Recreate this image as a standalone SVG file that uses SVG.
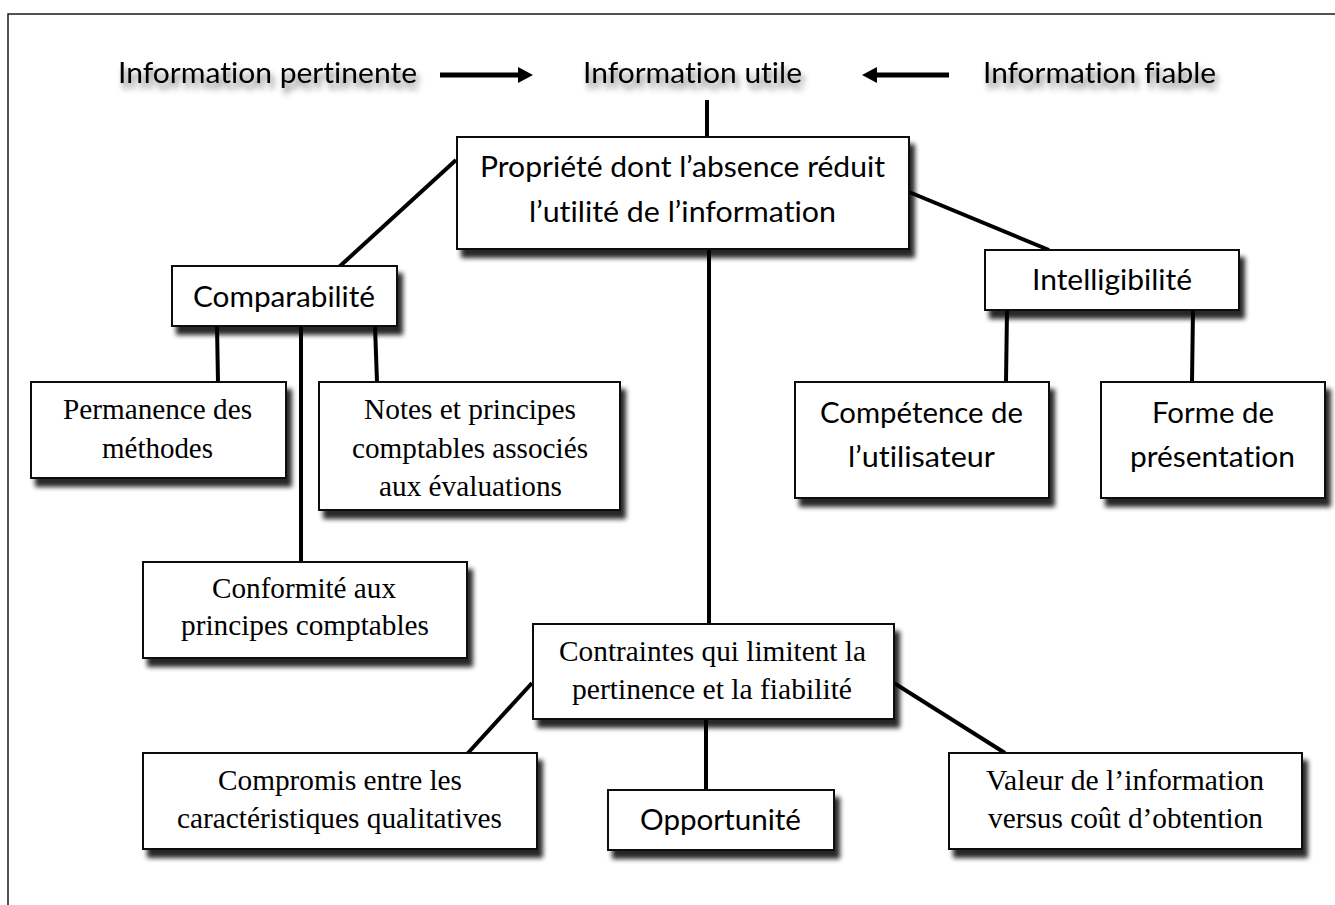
<svg xmlns="http://www.w3.org/2000/svg" width="1335" height="905" viewBox="0 0 1335 905">
<style>
  .frame{fill:none;stroke:#1a1a1a;stroke-width:1.5}
  .box{fill:#ffffff;stroke:#111;stroke-width:2;filter:url(#boxshadow)}
  .con{stroke:#000;stroke-width:4;fill:none;stroke-linecap:butt}
  .arr{stroke:#000;stroke-width:5;fill:none}
  .sans{font-family:"Lato","Open Sans","Liberation Sans",sans-serif;font-size:28px;fill:#000;font-variant-ligatures:none;font-feature-settings:"liga" 0,"clig" 0}
  .serif{font-family:"Liberation Serif","DejaVu Serif",serif;font-size:29px;fill:#000;font-variant-ligatures:none;font-feature-settings:"liga" 0}
  .top{filter:url(#textshadow)}
</style>
<defs>
  <filter id="boxshadow" x="-10%" y="-10%" width="130%" height="140%">
    <feGaussianBlur in="SourceAlpha" stdDeviation="2.5"/>
    <feOffset dx="5" dy="8" result="b"/>
    <feComponentTransfer><feFuncA type="linear" slope="0.85"/></feComponentTransfer>
    <feMerge><feMergeNode/><feMergeNode in="SourceGraphic"/></feMerge>
  </filter>
  <filter id="textshadow" x="-10%" y="-30%" width="130%" height="180%">
    <feGaussianBlur in="SourceAlpha" stdDeviation="3"/>
    <feOffset dx="3" dy="6" result="b"/>
    <feComponentTransfer><feFuncA type="linear" slope="0.55"/></feComponentTransfer>
    <feMerge><feMergeNode/><feMergeNode in="SourceGraphic"/></feMerge>
  </filter>
  <marker id="head" markerUnits="userSpaceOnUse" markerWidth="16" markerHeight="18" refX="0" refY="9" orient="auto">
    <path d="M0,1 L15,9 L0,17 z" fill="#000"/>
  </marker>
</defs>
<rect x="0" y="0" width="1335" height="905" fill="#ffffff"/>
<path class="frame" d="M8,905 V14 H1335"/>

<g id="connectors">
  <line class="arr" x1="440" y1="75" x2="518" y2="75" marker-end="url(#head)"/>
  <line class="arr" x1="949" y1="75" x2="877" y2="75" marker-end="url(#head)"/>
  <line class="con" x1="707" y1="100" x2="707" y2="137"/>
  <line class="con" x1="456" y1="160" x2="339" y2="267"/>
  <line class="con" x1="909" y1="192" x2="1049" y2="250"/>
  <line class="con" x1="709" y1="249" x2="709" y2="624"/>
  <line class="con" x1="217" y1="326" x2="218" y2="382"/>
  <line class="con" x1="301" y1="326" x2="301" y2="562"/>
  <line class="con" x1="375" y1="326" x2="377" y2="382"/>
  <line class="con" x1="1007" y1="310" x2="1006" y2="382"/>
  <line class="con" x1="1193" y1="310" x2="1192" y2="382"/>
  <line class="con" x1="532" y1="683" x2="468" y2="753"/>
  <line class="con" x1="706" y1="719" x2="706" y2="790"/>
  <line class="con" x1="894" y1="683" x2="1005" y2="753"/>
</g>

<g id="info-pertinente" class="top">
  <text class="sans" x="118" y="83" textLength="299" lengthAdjust="spacingAndGlyphs">Information pertinente</text>
</g>
<g id="info-utile" class="top">
  <text class="sans" x="583" y="83" textLength="219" lengthAdjust="spacingAndGlyphs">Information utile</text>
</g>
<g id="info-fiable" class="top">
  <text class="sans" x="983" y="83" textLength="233" lengthAdjust="spacingAndGlyphs">Information fiable</text>
</g>

<g id="propriete">
  <rect class="box" x="457" y="137" width="452" height="112"/>
  <text class="sans" x="480" y="177" textLength="405" lengthAdjust="spacingAndGlyphs">Propriété dont l’absence réduit</text>
  <text class="sans" x="529" y="222" textLength="307" lengthAdjust="spacingAndGlyphs">l’utilité de l’information</text>
</g>

<g id="comparabilite">
  <rect class="box" x="172" y="266" width="225" height="60"/>
  <text class="sans" x="193" y="307" textLength="182" lengthAdjust="spacingAndGlyphs">Comparabilité</text>
</g>

<g id="intelligibilite">
  <rect class="box" x="985" y="250" width="254" height="60"/>
  <text class="sans" x="1032" y="290" textLength="160" lengthAdjust="spacingAndGlyphs">Intelligibilité</text>
</g>

<g id="permanence">
  <rect class="box" x="31" y="382" width="255" height="96"/>
  <text class="serif" x="63" y="419" textLength="189" lengthAdjust="spacingAndGlyphs">Permanence des</text>
  <text class="serif" x="102" y="458" textLength="111" lengthAdjust="spacingAndGlyphs">méthodes</text>
</g>

<g id="notes">
  <rect class="box" x="319" y="382" width="301" height="128"/>
  <text class="serif" x="364" y="419" textLength="212" lengthAdjust="spacingAndGlyphs">Notes et principes</text>
  <text class="serif" x="352" y="458" textLength="236" lengthAdjust="spacingAndGlyphs">comptables associés</text>
  <text class="serif" x="379" y="496" textLength="183" lengthAdjust="spacingAndGlyphs">aux évaluations</text>
</g>

<g id="conformite">
  <rect class="box" x="143" y="562" width="324" height="96"/>
  <text class="serif" x="212" y="598" textLength="184" lengthAdjust="spacingAndGlyphs">Conformité aux</text>
  <text class="serif" x="181" y="635" textLength="248" lengthAdjust="spacingAndGlyphs">principes comptables</text>
</g>

<g id="competence">
  <rect class="box" x="795" y="382" width="254" height="116"/>
  <text class="sans" x="820" y="423" textLength="203" lengthAdjust="spacingAndGlyphs">Compétence de</text>
  <text class="sans" x="848" y="467" textLength="147" lengthAdjust="spacingAndGlyphs">l’utilisateur</text>
</g>

<g id="forme">
  <rect class="box" x="1101" y="382" width="224" height="116"/>
  <text class="sans" x="1152" y="423" textLength="122" lengthAdjust="spacingAndGlyphs">Forme de</text>
  <text class="sans" x="1130" y="467" textLength="165" lengthAdjust="spacingAndGlyphs">présentation</text>
</g>

<g id="contraintes">
  <rect class="box" x="533" y="624" width="361" height="95"/>
  <text class="serif" x="559" y="661" textLength="307" lengthAdjust="spacingAndGlyphs">Contraintes qui limitent la</text>
  <text class="serif" x="572" y="699" textLength="280" lengthAdjust="spacingAndGlyphs">pertinence et la fiabilité</text>
</g>

<g id="compromis">
  <rect class="box" x="143" y="753" width="394" height="96"/>
  <text class="serif" x="218" y="790" textLength="244" lengthAdjust="spacingAndGlyphs">Compromis entre les</text>
  <text class="serif" x="177" y="828" textLength="325" lengthAdjust="spacingAndGlyphs">caractéristiques qualitatives</text>
</g>

<g id="opportunite">
  <rect class="box" x="608" y="790" width="226" height="60"/>
  <text class="sans" x="640" y="830" textLength="161" lengthAdjust="spacingAndGlyphs">Opportunité</text>
</g>

<g id="valeur">
  <rect class="box" x="949" y="753" width="353" height="96"/>
  <text class="serif" x="986" y="790" textLength="278" lengthAdjust="spacingAndGlyphs">Valeur de l’information</text>
  <text class="serif" x="988" y="828" textLength="275" lengthAdjust="spacingAndGlyphs">versus coût d’obtention</text>
</g>
</svg>
